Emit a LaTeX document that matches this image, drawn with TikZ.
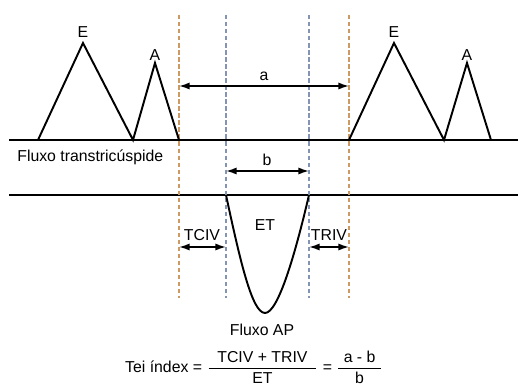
\documentclass[tikz,border=0pt]{standalone}
\usepackage{amsmath}
\usepackage{fontspec}
\setmainfont{Liberation Sans}
\usepackage{tikz}
\usetikzlibrary{arrows.meta}
\definecolor{guideOrange}{HTML}{CC9A62}
\definecolor{guideBlue}{HTML}{8494B4}

\begin{document}
\begin{tikzpicture}[
    x=0.02cm, y=-0.02cm,
    lbl/.style={inner sep=0pt, font=\fontsize{9}{11}\selectfont},
    wave/.style={line width=1.1pt, line join=miter},
    base/.style={line width=1pt},
    guideO/.style={line width=1.2pt, color=guideOrange, dash pattern=on 2.5pt off 1.5pt},
    guideB/.style={line width=1.1pt, color=guideBlue, dash pattern=on 2.5pt off 1.5pt},
    dim/.style={{Latex[length=6pt,width=4pt]}-{Latex[length=6pt,width=4pt]}, line width=0.9pt}
  ]
    \useasboundingbox (0,0) rectangle (518,388);

    % guide coordinates
    \coordinate (oLt) at (179,15);  \coordinate (oLb) at (179,298);
    \coordinate (bLt) at (226,15);  \coordinate (bLb) at (226,298);
    \coordinate (bRt) at (309,15);  \coordinate (bRb) at (309,298);
    \coordinate (oRt) at (349,15);  \coordinate (oRb) at (349,298);

    % baselines
    \coordinate (topL) at (9,140);  \coordinate (topR) at (518,140);
    \coordinate (botL) at (9,195);  \coordinate (botR) at (518,195);
    \draw[base] (topL) -- (topR);
    \draw[base] (botL) -- (botR);

    % dashed guides
    \draw[guideO] (oLt) -- (oLb);
    \draw[guideB] (bLt) -- (bLb);
    \draw[guideB] (bRt) -- (bRb);
    \draw[guideO] (oRt) -- (oRb);

    % transtricuspid waves
    \draw[wave] (38,140) -- (83,43) -- (133,140) -- (155,63) -- (179,140);
    \draw[wave] (349,140) -- (394,43) -- (444,140) -- (467,63) -- (491,140);

    % pulmonary wave
    \draw[wave] (226,195) .. controls (240,260) and (252,313) .. (265,313)
                .. controls (278,313) and (295,255) .. (309,195);

    % dimension arrows
    \coordinate (aL) at (179,86);   \coordinate (aR) at (349,86);
    \coordinate (bL) at (226,171);  \coordinate (bR) at (309,171);
    \coordinate (cL) at (179,247);  \coordinate (cR) at (226,247);
    \coordinate (tL) at (309,247);  \coordinate (tR) at (349,247);
    \draw[dim] (aL) -- (aR);
    \draw[dim] (bL) -- (bR);
    \draw[dim] (cL) -- (cR);
    \draw[dim] (tL) -- (tR);

    % labels
    \node[lbl] (eLeft)  at (83,32)  {E};
    \node[lbl] (aLeft)  at (155,55) {A};
    \node[lbl] (eRight) at (394,32) {E};
    \node[lbl] (aRight) at (467,55) {A};
    \node[lbl] (aLbl)   at (264,76)  {a};
    \node[lbl] (bLbl)   at (267,160) {b};
    \node[lbl, anchor=west] (ttLbl) at (17,157) {Fluxo transtricúspide};
    \node[lbl] (etLbl)   at (265,225) {ET};
    \node[lbl] (tcivLbl) at (202,235) {TCIV};
    \node[lbl] (trivLbl) at (329,235) {TRIV};
    \node[lbl] (apLbl)   at (262,330) {Fluxo AP};
    \node[lbl] (teiLbl)  at (254,367)
      {Tei índex = $\dfrac{\mbox{\hspace{5pt}TCIV + TRIV\hspace{5pt}}}{\mbox{ET}}$ =
       $\dfrac{\mbox{\hspace{3pt}a - b\hspace{3pt}}}{\mbox{b}}$};
\end{tikzpicture}
\end{document}
